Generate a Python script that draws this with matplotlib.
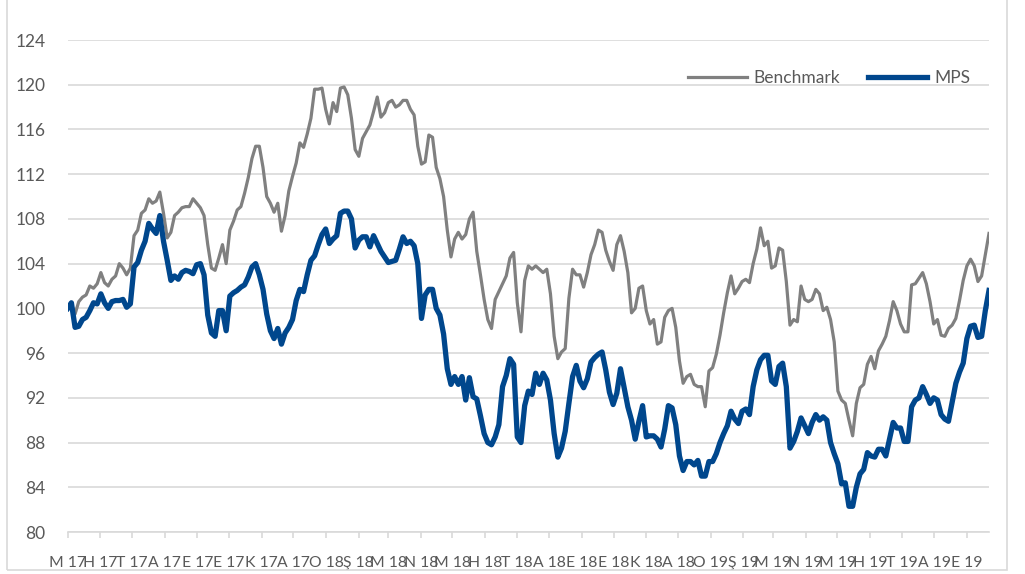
import numpy as np
import pandas as pd
import matplotlib
matplotlib.use("Agg")
import matplotlib.pyplot as plt
from matplotlib.patches import Rectangle

# month tick labels (Turkish initials) May 2017 .. Sep 2019
tick_labels = ["M 17", "H 17", "T 17", "A 17", "E 17", "E 17", "K 17", "A 17",
               "O 18", "Ş 18", "M 18", "N 18", "M 18", "H 18", "T 18", "A 18",
               "E 18", "E 18", "K 18", "A 18",
               "O 19", "Ş 19", "M 19", "N 19", "M 19", "H 19", "T 19", "A 19", "E 19"]

benchmark = [
    100, 100.3, 99.5, 100.6, 101, 101.2, 102, 101.8, 102.2, 103.2,
    102.3, 102, 102.6, 102.9, 104, 103.6, 103, 103.6, 106.5, 107,
    108.5, 108.8, 109.8, 109.4, 109.6, 110.4, 108.5, 106.3, 106.8, 108.3,
    108.6, 109, 109.1, 109.1, 109.8, 109.4, 109, 108.3, 105.7, 103.6,
    103.4, 104.5, 105.7, 104, 107, 107.8, 108.8, 109.1, 110.3, 111.7,
    113.4, 114.5, 114.5, 112.6, 110, 109.4, 108.6, 109.4, 106.9, 108.3,
    110.5, 111.8, 113, 114.8, 114.4, 115.6, 117, 119.6, 119.6, 119.7,
    117.8, 116.5, 118.4, 117.6, 119.7, 119.8, 119.1, 117, 114.2, 113.6,
    115.2, 115.8, 116.4, 117.6, 118.9, 117.1, 117.5, 118.4, 118.6, 118,
    118.2, 118.6, 118.6, 117.8, 117.3, 114.5, 112.9, 113.1, 115.5, 115.3,
    112.6, 111.6, 110, 107, 104.6, 106.2, 106.8, 106.2, 106.6, 108,
    108.6, 105.1, 103, 100.8, 99, 98.2, 100.8, 101.5, 102.2, 102.9,
    104.5, 105, 100.5, 97.9, 102.5, 103.8, 103.5, 103.8, 103.5, 103.2,
    103.5, 101.3, 97.5, 95.5, 96.1, 96.4, 100.9, 103.5, 103, 103,
    101.9, 103.2, 104.8, 105.7, 107, 106.8, 105.2, 104.2, 103.4, 105.7,
    106.5, 105.1, 103.2, 99.6, 100, 101.8, 102, 99.8, 98.6, 99,
    96.8, 97, 99.2, 99.8, 100, 98.3, 95.3, 93.3, 93.9, 94.1,
    93.2, 93, 93, 91.2, 94.4, 94.7, 95.9, 97.6, 99.6, 101.4,
    102.9, 101.3, 101.8, 102.4, 102.6, 102.3, 104, 105.3, 107.2, 105.6,
    106, 103.6, 103.8, 105.4, 105.2, 102.4, 98.5, 99, 98.8, 102,
    100.8, 100.6, 100.8, 101.7, 101.3, 99.8, 100.1, 99, 97, 92.6,
    91.8, 91.5, 90, 88.6, 91.5, 92.9, 93.2, 95, 95.7, 94.6,
    96.2, 96.8, 97.5, 98.9, 100.6, 99.8, 98.6, 97.9, 97.9, 102.1,
    102.2, 102.7, 103.2, 102.2, 100.6, 98.6, 99, 97.6, 97.5, 98.2,
    98.5, 99.1, 100.7, 102.5, 103.8, 104.4, 103.8, 102.4, 102.9, 104.8,
    106.7]

mps = [
    100, 100.5, 98.3, 98.4, 99, 99.2, 99.8, 100.5, 100.4, 101.3,
    100.5, 100, 100.6, 100.7, 100.7, 100.8, 100.1, 100.4, 103.7, 104.1,
    105.2, 106, 107.6, 107.1, 106.7, 108.3, 106, 104.3, 102.5, 102.9,
    102.6, 103.2, 103.4, 103.3, 103.1, 103.9, 104, 103, 99.4, 97.8,
    97.5, 99.8, 99.8, 98, 101.1, 101.4, 101.6, 101.9, 102.1, 102.8,
    103.7, 104, 103, 101.7, 99.5, 98, 97.3, 98.2, 96.8, 97.8,
    98.3, 99, 100.7, 101.7, 101.5, 103, 104.3, 104.7, 105.7, 106.6,
    107.1, 105.8, 106.2, 106.5, 108.5, 108.7, 108.7, 108, 105.4, 106.1,
    106.4, 106.4, 105.5, 106.5, 105.8, 105.1, 104.6, 104.1, 104.2, 104.3,
    105.3, 106.4, 105.8, 106, 105.6, 104, 99.1, 101.2, 101.7, 101.7,
    100, 99.4, 97.7, 94.6, 93.2, 93.9, 93.2, 93.9, 91.8, 93.8,
    92.1, 91.9, 90.4, 88.8, 88, 87.8, 88.5, 89.6, 93, 94,
    95.5, 95, 88.5, 88, 91.3, 92.6, 92.3, 94.2, 93.2, 94.2,
    93.6, 91.8, 88.8, 86.7, 87.5, 89, 91.5, 93.9, 94.9, 93.5,
    92.9, 93.7, 95.2, 95.6, 95.9, 96.1, 94.5, 92.5, 91.4, 92.4,
    94.6, 92.9, 91.2, 90, 88.3, 89.9, 91.3, 88.5, 88.6, 88.6,
    88.3, 87.6, 89.2, 91.3, 91.1, 89.6, 86.8, 85.5, 86.3, 86.3,
    86, 86.4, 85, 85, 86.3, 86.3, 87, 88, 88.8, 89.5,
    90.8, 90.1, 89.7, 90.8, 91, 90.5, 93, 94.5, 95.4, 95.8,
    95.8, 93.5, 93.2, 94.8, 95.1, 93, 87.5, 88.1, 89, 90.2,
    89.5, 88.8, 89.8, 90.5, 90, 90.3, 90, 88, 87, 86.1,
    84.3, 84.4, 82.3, 82.3, 84, 85.2, 85.6, 87.1, 86.8, 86.7,
    87.4, 87.4, 86.8, 88.3, 89.8, 89.3, 89.3, 88.1, 88.1, 91.2,
    91.8, 92, 93, 92.3, 91.5, 92, 91.8, 90.5, 90.1, 89.9,
    91.6, 93.3, 94.3, 95.1, 97.3, 98.4, 98.5, 97.4, 97.5, 99.8,
    101.6]

start = pd.Timestamp("2017-05-08")
end = pd.Timestamp("2019-09-29")
dates = pd.date_range(start, end, periods=len(mps))
tick_dates = [start + pd.DateOffset(months=i) for i in range(len(tick_labels))]

plt.rcParams["font.family"] = ["Lato", "DejaVu Sans"]
txt = "#595959"
grid_c = "#d9d9d9"

fig = plt.figure(figsize=(10.25, 5.74), dpi=100)
ax = fig.add_axes([67.7 / 1025, 1 - 532 / 574, (989 - 67.7) / 1025, (532 - 40) / 574])

ax.plot(dates, benchmark, color="#808080", lw=2.3, label="Benchmark", zorder=3)
ax.plot(dates, mps, color="#00478D", lw=3.8, label="MPS", zorder=4)

ax.set_ylim(80, 124)
ax.set_yticks(np.arange(80, 125, 4))
ax.set_xlim(start, end)
ax.set_xticks(tick_dates)
ax.set_xticklabels(tick_labels)

ax.grid(axis="y", color=grid_c, lw=1.2)
ax.set_axisbelow(True)
for s in ["top", "right", "left"]:
    ax.spines[s].set_visible(False)
ax.spines["bottom"].set_color(grid_c)
ax.spines["bottom"].set_linewidth(1.2)
ax.tick_params(axis="y", length=0, pad=16, labelsize=12.5, labelcolor=txt)
ax.tick_params(axis="x", length=4, color=grid_c, width=1.2, pad=13,
               labelsize=11.3, labelcolor=txt)

leg = fig.legend(loc="center", bbox_to_anchor=(829 / 1025, 1 - 78 / 574), ncol=2,
                 frameon=False, fontsize=12.5, handlelength=3.4, handletextpad=0.4,
                 columnspacing=1.6, labelcolor=txt)

fig.add_artist(Rectangle((7 / 1025, 4 / 574), 1000 / 1025, 1.2, transform=fig.transFigure,
                         fill=False, ec=grid_c, lw=1.2))

fig.savefig("out.png", dpi=100)
